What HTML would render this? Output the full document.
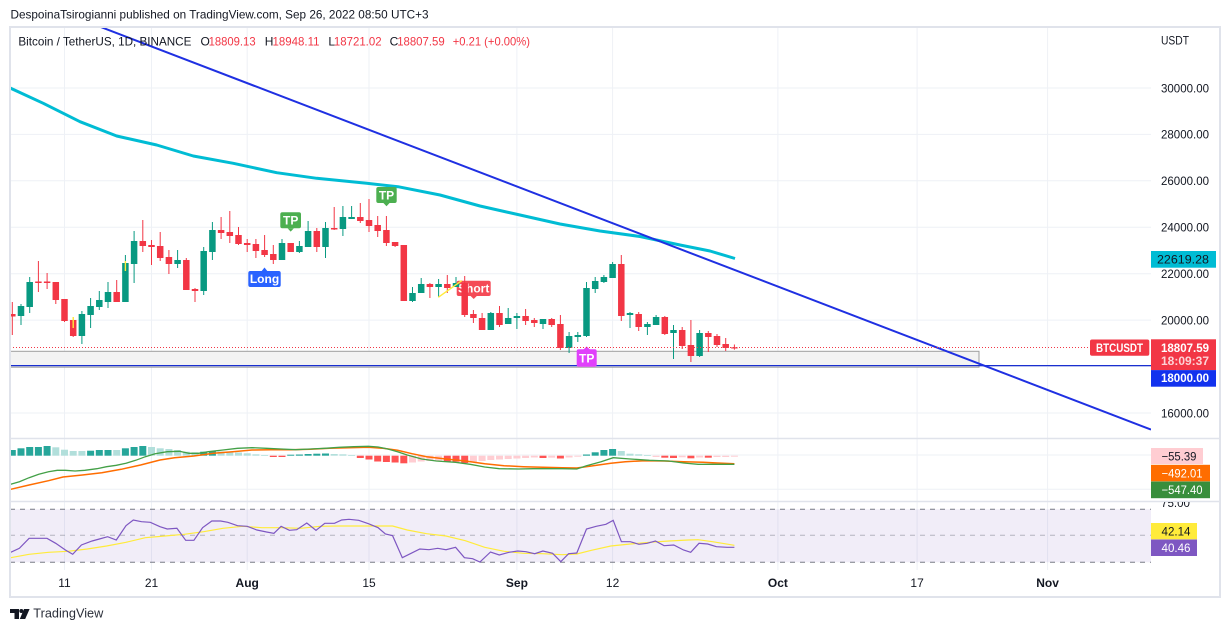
<!DOCTYPE html>
<html>
<head>
<meta charset="utf-8">
<style>
html,body{margin:0;padding:0;background:#fff;}
svg{display:block;font-family:"Liberation Sans",Arial,sans-serif;}
</style>
</head>
<body>
<svg width="1231" height="632" viewBox="0 0 1231 632" xmlns="http://www.w3.org/2000/svg">
<defs>
<clipPath id="cm"><rect x="10" y="27" width="1141" height="411"/></clipPath>
<clipPath id="cmacd"><rect x="10" y="439" width="1141" height="62"/></clipPath>
<clipPath id="crsi"><rect x="10" y="502" width="1141" height="68"/></clipPath>
<clipPath id="crsiax"><rect x="1151" y="502" width="70" height="68"/></clipPath>
</defs>

<!-- header -->
<text x="10.5" y="18.5" font-size="12" fill="#131722" textLength="418" lengthAdjust="spacingAndGlyphs">DespoinaTsirogianni published on TradingView.com, Sep 26, 2022 08:50 UTC+3</text>

<!-- vertical gridlines -->
<g stroke="#eef1f6" stroke-width="1">
<line x1="64.5" y1="27" x2="64.5" y2="570"/>
<line x1="151.5" y1="27" x2="151.5" y2="570"/>
<line x1="247.2" y1="27" x2="247.2" y2="570"/>
<line x1="369" y1="27" x2="369" y2="570"/>
<line x1="516.9" y1="27" x2="516.9" y2="570"/>
<line x1="612.6" y1="27" x2="612.6" y2="570"/>
<line x1="777.9" y1="27" x2="777.9" y2="570"/>
<line x1="917.1" y1="27" x2="917.1" y2="570"/>
<line x1="1047.6" y1="27" x2="1047.6" y2="570"/>
</g>
<!-- horizontal gridlines main -->
<g stroke="#eef1f6" stroke-width="1">
<line x1="10" y1="88" x2="1151" y2="88"/>
<line x1="10" y1="134.4" x2="1151" y2="134.4"/>
<line x1="10" y1="180.8" x2="1151" y2="180.8"/>
<line x1="10" y1="227.3" x2="1151" y2="227.3"/>
<line x1="10" y1="273.7" x2="1151" y2="273.7"/>
<line x1="10" y1="320.1" x2="1151" y2="320.1"/>
<line x1="10" y1="366.5" x2="1151" y2="366.5"/>
<line x1="10" y1="413" x2="1151" y2="413"/>
<line x1="10" y1="455" x2="1151" y2="455"/>
<line x1="10" y1="489.3" x2="1151" y2="489.3"/>
</g>

<g clip-path="url(#cm)">
<!-- gray zone rectangle -->
<rect x="10" y="351.3" width="969" height="15.9" fill="#f3f3f3" stroke="#9e9e9e" stroke-width="1"/>
<line x1="10" y1="365.6" x2="1151" y2="365.6" stroke="#1a2fd0" stroke-width="1.2"/>

<!-- cyan MA -->
<polyline fill="none" stroke="#00bcd4" stroke-width="3" stroke-linejoin="round" points="9,87.5 43.3,103.3 80,121.7 116.7,136 156.7,145 193.3,156 233.3,163.3 276.7,172.7 316.7,178.3 366.7,183.3 398,186.7 440,195 480,206 520,215 560,224 600,231 640,236.5 680,245 710,251 735,258.5"/>

<!-- badges -->
<g>
<rect x="248.3" y="271" width="32.4" height="16" rx="2" fill="#2962ff"/>
<polygon points="261.5,271.2 264.5,267.5 267.5,271.2" fill="#2962ff"/>
<text x="264.5" y="283" font-size="12" fill="#fff" text-anchor="middle" font-weight="bold">Long</text>

<rect x="280.3" y="212.3" width="20.7" height="16" rx="2" fill="#4caf50"/>
<polygon points="287.5,228.2 290.7,231.6 293.9,228.2" fill="#4caf50"/>
<text x="290.7" y="224.6" font-size="12" fill="#fff" text-anchor="middle" font-weight="bold">TP</text>

<rect x="376.3" y="187" width="20.4" height="16" rx="2" fill="#4caf50"/>
<polygon points="383.3,202.9 386.5,206.3 389.7,202.9" fill="#4caf50"/>
<text x="386.5" y="199.3" font-size="12" fill="#fff" text-anchor="middle" font-weight="bold">TP</text>

<rect x="456.7" y="280.7" width="34" height="15.3" rx="2" fill="#f44b57"/>
<polygon points="470.5,295.9 473.7,299 476.9,295.9" fill="#f44b57"/>
<text x="473.7" y="292.5" font-size="12" fill="#fff" text-anchor="middle" font-weight="bold">Short</text>

<rect x="576.7" y="349.3" width="20" height="17.4" rx="2" fill="#e040fb"/>
<polygon points="583.5,349.5 586.7,346.4 589.9,349.5" fill="#e040fb"/>
<text x="586.7" y="362.3" font-size="12" fill="#fff" text-anchor="middle" font-weight="bold">TP</text>
</g>

<!-- red candles -->
<g fill="#f23645">
<rect x="11.8" y="302" width="1" height="33"/><rect x="9.05" y="314" width="6.5" height="2.5"/>
<rect x="37.9" y="261" width="1" height="31"/><rect x="35.15" y="281.5" width="6.5" height="1.5"/>
<rect x="46.6" y="273" width="1" height="16"/><rect x="43.85" y="281.5" width="6.5" height="1.5"/>
<rect x="55.3" y="282" width="1" height="22"/><rect x="52.55" y="282" width="6.5" height="18"/>
<rect x="64" y="299" width="1" height="23"/><rect x="61.25" y="299" width="6.5" height="22"/>
<rect x="72.7" y="317" width="1" height="20"/><rect x="69.95" y="320" width="6.5" height="16"/>
<rect x="116.2" y="280" width="1" height="22"/><rect x="113.45" y="292" width="6.5" height="10"/>
<rect x="142.3" y="220" width="1" height="32"/><rect x="139.55" y="241" width="6.5" height="5"/>
<rect x="151" y="240" width="1" height="25"/><rect x="148.25" y="245" width="6.5" height="2"/>
<rect x="159.7" y="232" width="1" height="29"/><rect x="156.95" y="246" width="6.5" height="12"/>
<rect x="168.4" y="250" width="1" height="24"/><rect x="165.65" y="257" width="6.5" height="7"/>
<rect x="185.8" y="258" width="1" height="32"/><rect x="183.05" y="260" width="6.5" height="30"/>
<rect x="194.5" y="288" width="1" height="14"/><rect x="191.75" y="289" width="6.5" height="2"/>
<rect x="220.6" y="217" width="1" height="22"/><rect x="217.85" y="230" width="6.5" height="3"/>
<rect x="229.3" y="211" width="1" height="32"/><rect x="226.55" y="232" width="6.5" height="4"/>
<rect x="238" y="227" width="1" height="18"/><rect x="235.25" y="235" width="6.5" height="9"/>
<rect x="246.7" y="239" width="1" height="13"/><rect x="243.95" y="243" width="6.5" height="2"/>
<rect x="255.4" y="239" width="1" height="19"/><rect x="252.65" y="244" width="6.5" height="7"/>
<rect x="264.1" y="235" width="1" height="22"/><rect x="261.35" y="250" width="6.5" height="5"/>
<rect x="272.8" y="245" width="1" height="19"/><rect x="270.05" y="254" width="6.5" height="6"/>
<rect x="290.2" y="243" width="1" height="9"/><rect x="287.45" y="243" width="6.5" height="9"/>
<rect x="316.3" y="228" width="1" height="24"/><rect x="313.55" y="231" width="6.5" height="16"/>
<rect x="333.7" y="207" width="1" height="23"/><rect x="330.95" y="228" width="6.5" height="1.5"/>
<rect x="359.8" y="203" width="1" height="20"/><rect x="357.05" y="217" width="6.5" height="4"/>
<rect x="368.5" y="199" width="1" height="33"/><rect x="365.75" y="220" width="6.5" height="6"/>
<rect x="377.2" y="216" width="1" height="21"/><rect x="374.45" y="225" width="6.5" height="6"/>
<rect x="385.9" y="216" width="1" height="30"/><rect x="383.15" y="230" width="6.5" height="13"/>
<rect x="394.6" y="242" width="1" height="5"/><rect x="391.85" y="242" width="6.5" height="4"/>
<rect x="403.3" y="245" width="1" height="56"/><rect x="400.55" y="245" width="6.5" height="56"/>
<rect x="429.4" y="283" width="1" height="15"/><rect x="426.65" y="284" width="6.5" height="3"/>
<rect x="446.8" y="275" width="1" height="18"/><rect x="444.05" y="284" width="6.5" height="4"/>
<rect x="464.2" y="276" width="1" height="41"/><rect x="461.45" y="283" width="6.5" height="32"/>
<rect x="472.9" y="310" width="1" height="13"/><rect x="470.15" y="314" width="6.5" height="4"/>
<rect x="481.6" y="313" width="1" height="17"/><rect x="478.85" y="318" width="6.5" height="12"/>
<rect x="499" y="306" width="1" height="21"/><rect x="496.25" y="313" width="6.5" height="12"/>
<rect x="525.1" y="309" width="1" height="16"/><rect x="522.35" y="316" width="6.5" height="5"/>
<rect x="533.8" y="318" width="1" height="9"/><rect x="531.05" y="320" width="6.5" height="3"/>
<rect x="551.2" y="318" width="1" height="9"/><rect x="548.45" y="319" width="6.5" height="6"/>
<rect x="559.9" y="315" width="1" height="35"/><rect x="557.15" y="324" width="6.5" height="24"/>
<rect x="620.8" y="255" width="1" height="66"/><rect x="618.05" y="264" width="6.5" height="52"/>
<rect x="638.2" y="312" width="1" height="19"/><rect x="635.45" y="314" width="6.5" height="13"/>
<rect x="664.3" y="316" width="1" height="19"/><rect x="661.55" y="317" width="6.5" height="17"/>
<rect x="681.7" y="327" width="1" height="22"/><rect x="678.95" y="330" width="6.5" height="16"/>
<rect x="690.4" y="320" width="1" height="42"/><rect x="687.65" y="345" width="6.5" height="11"/>
<rect x="707.8" y="331" width="1" height="21"/><rect x="705.05" y="333" width="6.5" height="4"/>
<rect x="716.5" y="334" width="1" height="13"/><rect x="713.75" y="336" width="6.5" height="9"/>
<rect x="725.2" y="338" width="1" height="13"/><rect x="722.45" y="344" width="6.5" height="4"/>
<rect x="733.9" y="344.5" width="1" height="5.2"/><rect x="731.15" y="347.3" width="6.5" height="1.2"/>
</g>
<!-- green candles -->
<g fill="#089981">
<rect x="20.5" y="304" width="1" height="21"/><rect x="17.75" y="306" width="6.5" height="10"/>
<rect x="29.2" y="277" width="1" height="36"/><rect x="26.45" y="282" width="6.5" height="25"/>
<rect x="81.4" y="311" width="1" height="33"/><rect x="78.65" y="314" width="6.5" height="22"/>
<rect x="90.1" y="298" width="1" height="30"/><rect x="87.35" y="306" width="6.5" height="9"/>
<rect x="98.8" y="291" width="1" height="19"/><rect x="96.05" y="300" width="6.5" height="7"/>
<rect x="107.5" y="282" width="1" height="26"/><rect x="104.75" y="292" width="6.5" height="10"/>
<rect x="124.9" y="255" width="1" height="47"/><rect x="122.15" y="263" width="6.5" height="39"/>
<rect x="133.6" y="231" width="1" height="52"/><rect x="130.85" y="241" width="6.5" height="23"/>
<rect x="177.1" y="250" width="1" height="18"/><rect x="174.35" y="260" width="6.5" height="4"/>
<rect x="203.2" y="247" width="1" height="48"/><rect x="200.45" y="251" width="6.5" height="40"/>
<rect x="211.9" y="222" width="1" height="38"/><rect x="209.15" y="230" width="6.5" height="22"/>
<rect x="281.5" y="239" width="1" height="21"/><rect x="278.75" y="243" width="6.5" height="17"/>
<rect x="298.9" y="241" width="1" height="12"/><rect x="296.15" y="246" width="6.5" height="6"/>
<rect x="307.6" y="221" width="1" height="26"/><rect x="304.85" y="231" width="6.5" height="16"/>
<rect x="325" y="222" width="1" height="36"/><rect x="322.25" y="228" width="6.5" height="19"/>
<rect x="342.4" y="206" width="1" height="30"/><rect x="339.65" y="217" width="6.5" height="12"/>
<rect x="351.1" y="206" width="1" height="13"/><rect x="348.35" y="217" width="6.5" height="2"/>
<rect x="412" y="287" width="1" height="15"/><rect x="409.25" y="293" width="6.5" height="8"/>
<rect x="420.7" y="278" width="1" height="15"/><rect x="417.95" y="284" width="6.5" height="9"/>
<rect x="438.1" y="279" width="1" height="18"/><rect x="435.35" y="284" width="6.5" height="3"/>
<rect x="455.5" y="277" width="1" height="10"/><rect x="452.75" y="283" width="6.5" height="4"/>
<rect x="490.3" y="312" width="1" height="18"/><rect x="487.55" y="313" width="6.5" height="17"/>
<rect x="507.7" y="308" width="1" height="16"/><rect x="504.95" y="318" width="6.5" height="6"/>
<rect x="516.4" y="313" width="1" height="16"/><rect x="513.65" y="316" width="6.5" height="2"/>
<rect x="542.5" y="319" width="1" height="10"/><rect x="539.75" y="319" width="6.5" height="5"/>
<rect x="568.6" y="332" width="1" height="21"/><rect x="565.85" y="336" width="6.5" height="12"/>
<rect x="577.3" y="332" width="1" height="10"/><rect x="574.55" y="335" width="6.5" height="2"/>
<rect x="586" y="282" width="1" height="55"/><rect x="583.25" y="288" width="6.5" height="48"/>
<rect x="594.7" y="277" width="1" height="16"/><rect x="591.95" y="281" width="6.5" height="8"/>
<rect x="603.4" y="275" width="1" height="8"/><rect x="600.65" y="277" width="6.5" height="5"/>
<rect x="612.1" y="262" width="1" height="16"/><rect x="609.35" y="264" width="6.5" height="14"/>
<rect x="629.5" y="312" width="1" height="16"/><rect x="626.75" y="313" width="6.5" height="2"/>
<rect x="646.9" y="322" width="1" height="13"/><rect x="644.15" y="324" width="6.5" height="3"/>
<rect x="655.6" y="315" width="1" height="10"/><rect x="652.85" y="317" width="6.5" height="8"/>
<rect x="673" y="325" width="1" height="34"/><rect x="670.25" y="330" width="6.5" height="3"/>
<rect x="699.1" y="330" width="1" height="27"/><rect x="696.35" y="333" width="6.5" height="23"/>
</g>
<!-- yellow marks -->
<g stroke="#ffeb3b" stroke-width="1.4">
<line x1="438.3" y1="297.3" x2="461.7" y2="280.7"/>
<line x1="73.2" y1="317" x2="73.2" y2="328"/>
<line x1="125.4" y1="261" x2="125.4" y2="271"/>
</g>

<!-- trendline -->
<line x1="100" y1="26.7" x2="1151" y2="429.6" stroke="#1f30e2" stroke-width="2"/>
<!-- current price dotted line -->
<line x1="10" y1="347.5" x2="1090" y2="347.5" stroke="#f23645" stroke-width="1" stroke-dasharray="1,2"/>
</g>

<!-- legend line 2 -->
<g font-size="12">
<text x="18.4" y="45.5" fill="#131722" textLength="173" lengthAdjust="spacingAndGlyphs">Bitcoin / TetherUS, 1D, BINANCE</text>
<text x="200.5" y="45.5" fill="#131722">O</text>
<text x="208.6" y="45.5" fill="#f23645" textLength="47" lengthAdjust="spacingAndGlyphs">18809.13</text>
<text x="264.8" y="45.5" fill="#131722">H</text>
<text x="272.5" y="45.5" fill="#f23645" textLength="47" lengthAdjust="spacingAndGlyphs">18948.11</text>
<text x="328.4" y="45.5" fill="#131722">L</text>
<text x="333.9" y="45.5" fill="#f23645" textLength="47.7" lengthAdjust="spacingAndGlyphs">18721.02</text>
<text x="389.6" y="45.5" fill="#131722">C</text>
<text x="397.2" y="45.5" fill="#f23645" textLength="47.5" lengthAdjust="spacingAndGlyphs">18807.59</text>
<text x="452.7" y="45.5" fill="#f23645" textLength="77.3" lengthAdjust="spacingAndGlyphs">+0.21 (+0.00%)</text>
</g>

<!-- MACD pane -->
<g clip-path="url(#cmacd)">
<g fill="#26a69a">
<rect x="8.8" y="450" width="7" height="5.7"/>
<rect x="17.5" y="448.3" width="7" height="7.4"/>
<rect x="26.2" y="447" width="7" height="8.7"/>
<rect x="34.9" y="447" width="7" height="8.7"/>
<rect x="43.6" y="446" width="7" height="9.7"/>
<rect x="87.1" y="450.7" width="7" height="5"/>
<rect x="95.8" y="450" width="7" height="5.7"/>
<rect x="104.5" y="450" width="7" height="5.7"/>
<rect x="121.9" y="448.3" width="7" height="7.4"/>
<rect x="130.6" y="447" width="7" height="8.7"/>
<rect x="139.3" y="446" width="7" height="9.7"/>
<rect x="200.2" y="451.7" width="7" height="4"/>
<rect x="208.9" y="451" width="7" height="4.7"/>
<rect x="287.2" y="454.7" width="7" height="1"/>
<rect x="295.9" y="454.5" width="7" height="1.2"/>
<rect x="304.6" y="454" width="7" height="1.7"/>
<rect x="313.3" y="453.7" width="7" height="2"/>
<rect x="322" y="453.5" width="7" height="2.2"/>
<rect x="583" y="454.5" width="7" height="1.2"/>
<rect x="591.7" y="452.3" width="7" height="3.4"/>
<rect x="600.4" y="450" width="7" height="5.7"/>
<rect x="609.1" y="449" width="7" height="6.7"/>
</g>
<g fill="#b2dfdb">
<rect x="52.3" y="447.3" width="7" height="8.4"/>
<rect x="61" y="449.7" width="7" height="6"/>
<rect x="69.7" y="451" width="7" height="4.7"/>
<rect x="78.4" y="451" width="7" height="4.7"/>
<rect x="113.2" y="450" width="7" height="5.7"/>
<rect x="148" y="447" width="7" height="8.7"/>
<rect x="156.7" y="448.3" width="7" height="7.4"/>
<rect x="165.4" y="449" width="7" height="6.7"/>
<rect x="174.1" y="450" width="7" height="5.7"/>
<rect x="182.8" y="451.7" width="7" height="4"/>
<rect x="191.5" y="452.3" width="7" height="3.4"/>
<rect x="217.6" y="451.5" width="7" height="4.2"/>
<rect x="226.3" y="452" width="7" height="3.7"/>
<rect x="235" y="452.5" width="7" height="3.2"/>
<rect x="243.7" y="453.3" width="7" height="2.4"/>
<rect x="252.4" y="454.3" width="7" height="1.4"/>
<rect x="261.1" y="455" width="7" height="0.8"/>
<rect x="330.7" y="454" width="7" height="1.7"/>
<rect x="339.4" y="454.3" width="7" height="1.4"/>
<rect x="348.1" y="455" width="7" height="0.8"/>
<rect x="617.8" y="451" width="7" height="4.7"/>
<rect x="626.5" y="453.7" width="7" height="2"/>
<rect x="635.2" y="454.3" width="7" height="1.4"/>
<rect x="643.9" y="455" width="7" height="0.8"/>
</g>
<g fill="#ff5252">
<rect x="269.8" y="455.7" width="7" height="1.3"/>
<rect x="278.5" y="455.7" width="7" height="1.3"/>
<rect x="356.8" y="455.7" width="7" height="2.3"/>
<rect x="365.5" y="455.7" width="7" height="3.8"/>
<rect x="374.2" y="455.7" width="7" height="5.8"/>
<rect x="382.9" y="455.7" width="7" height="6.3"/>
<rect x="391.6" y="455.7" width="7" height="6.8"/>
<rect x="400.3" y="455.7" width="7" height="7.6"/>
<rect x="443.8" y="455.7" width="7" height="5.8"/>
<rect x="452.5" y="455.7" width="7" height="6"/>
<rect x="461.2" y="455.7" width="7" height="7.3"/>
<rect x="539.5" y="455.7" width="7" height="2.3"/>
<rect x="556.9" y="455.7" width="7" height="2.8"/>
<rect x="661.3" y="455.7" width="7" height="2"/>
<rect x="670" y="455.7" width="7" height="2.3"/>
<rect x="687.4" y="455.7" width="7" height="2.6"/>
<rect x="704.8" y="455.7" width="7" height="2"/>
</g>
<g fill="#ffcdd2">
<rect x="409" y="455.7" width="7" height="6.8"/>
<rect x="417.7" y="455.7" width="7" height="5.8"/>
<rect x="426.4" y="455.7" width="7" height="5.3"/>
<rect x="435.1" y="455.7" width="7" height="5"/>
<rect x="469.9" y="455.7" width="7" height="6.3"/>
<rect x="478.6" y="455.7" width="7" height="5.3"/>
<rect x="487.3" y="455.7" width="7" height="4.3"/>
<rect x="496" y="455.7" width="7" height="3.8"/>
<rect x="504.7" y="455.7" width="7" height="3.3"/>
<rect x="513.4" y="455.7" width="7" height="2.8"/>
<rect x="522.1" y="455.7" width="7" height="2.3"/>
<rect x="530.8" y="455.7" width="7" height="1.8"/>
<rect x="548.2" y="455.7" width="7" height="2"/>
<rect x="565.6" y="455.7" width="7" height="1.8"/>
<rect x="574.3" y="455.7" width="7" height="1"/>
<rect x="652.6" y="455.7" width="7" height="1.3"/>
<rect x="678.7" y="455.7" width="7" height="1.6"/>
<rect x="696.1" y="455.7" width="7" height="1.8"/>
<rect x="713.5" y="455.7" width="7" height="1.3"/>
<rect x="722.2" y="455.7" width="7" height="1.3"/>
<rect x="730.9" y="455.7" width="7" height="1"/>
</g>
<polyline fill="none" stroke="#ff6d00" stroke-width="1.5" points="10.7,489.3 29.1,485 48.5,480.7 63,477 82.4,475 101.8,472.7 121.2,469.3 140.6,465 160,460 174.5,457.7 193.9,456 213.3,453.3 232.7,451.7 252,450 271.4,449.7 290.8,449.7 310.2,449.3 329.6,448.3 349,447.7 368.4,447.3 382.9,448.3 397.5,450.3 412,453.7 426.6,456.7 446,459 465.3,461 484.7,463.7 504.1,465.7 523.5,466.7 542.9,467.3 562.3,467.7 576.8,468 591.4,466 610.8,463.3 625.3,461.7 644.7,460.7 664.1,461 683.5,461.7 702.9,462.3 717.4,463 734.4,463.7"/>
<polyline fill="none" stroke="#43a047" stroke-width="1.3" points="10.7,484.3 19.4,481.7 29.1,477.7 38.8,474.3 48.5,471.7 57.2,470.3 65.4,470.3 75.1,471 84.8,470.3 96.9,468.7 106.6,466.7 116.3,465.3 126,463.3 135.7,460.3 145.4,456.7 155.1,453.7 167.2,451.7 179.4,451.3 189,453.3 198.7,453.3 208.4,451.7 223,450 237.5,448.3 252,447.7 266.6,448.3 281.1,449 295.7,449.7 310.2,449 324.8,448.3 339.3,447.3 353.9,446.7 368.4,446.3 378.1,447 387.8,449 397.5,451.7 407.2,455 421.7,459 436.3,461 455.6,462.3 470.2,464.3 484.7,467 499.3,468.7 518.7,469 533.2,468.7 547.7,468.7 562.3,468.7 576.8,469 586.5,465.7 601.1,461.7 613.2,457.7 630.2,459 649.5,460.3 668.9,461 683.5,463 698,464.3 717.4,464.3 734.4,464.3"/>
</g>

<!-- RSI pane -->
<g clip-path="url(#crsi)">
<rect x="10" y="509.3" width="1141" height="53" fill="#7e57c2" fill-opacity="0.11"/>
<line x1="10" y1="509.3" x2="1151" y2="509.3" stroke="#787b86" stroke-width="1" stroke-dasharray="5,5"/>
<line x1="10" y1="535.3" x2="1151" y2="535.3" stroke="#787b86" stroke-opacity="0.5" stroke-width="1" stroke-dasharray="5,5"/>
<line x1="10" y1="562.3" x2="1151" y2="562.3" stroke="#787b86" stroke-width="1" stroke-dasharray="5,5"/>
<polyline fill="none" stroke="#ffeb3b" stroke-width="1.2" points="10.7,557.7 29.1,554.3 48.5,552.3 67.9,551.3 87.3,549 106.6,546 126,542.3 145.4,537.7 164.8,536 184.2,534.3 203.6,531.7 223,528.3 242.4,526.3 261.8,527.7 281.1,527.7 300.5,528.3 319.9,526.3 339.3,526 358.7,526 378.1,526 392.6,526 407.2,530 426.6,533.7 446,536 465.3,540.7 484.7,547.3 504.1,551.3 523.5,553.3 542.9,553.7 562.3,554.7 576.8,554 591.4,550.3 610.8,546 630.2,544 649.5,542.3 668.9,541 688.3,540 698,539.7 712.5,541.7 734.4,545.3"/>
<polyline fill="none" stroke="#7e57c2" stroke-width="1.2" points="10.7,552.3 19.4,548.3 29.1,538.3 47,538.3 55.7,543.3 65.4,550 72.7,554.3 81.4,545 92.1,541 99.4,539 107.6,536.7 116.3,540 126,525.7 133.3,520 141.5,521.7 150.3,522.3 160,526.7 167.2,529 176.9,528.3 185.7,540.3 193.9,540.3 202.6,527.7 211.8,521 220.6,521 227.8,522.3 237.5,525.7 247.2,526.3 256.9,530 266.6,532 273.9,533.3 281.1,526.3 289.4,530.3 296.7,529.7 306.8,523 316,530.3 324.8,523.3 334.5,523.3 341.7,520 349,519.3 358.7,520.3 368.4,523.7 378.1,527.7 385.4,534 392.6,535.7 402.3,557.7 411.1,553.3 419.8,549 429,549.7 437.7,548.3 446,549.7 455.6,547.3 464.4,557.7 472.6,558.7 479.9,562 490.5,552 499.3,555 509,552.3 517.7,551 525.9,551.7 534.7,553.7 542.9,551 552.6,553.3 560.8,561.7 568.6,553.7 576.8,553 586.5,529 596.2,526.3 605.9,524.3 613.2,520.3 621.4,541.7 630.2,541.7 638.9,544.3 647.1,543.3 655.4,541 664.1,545.7 673.8,545 683.5,550 690.7,552.3 699,543.3 707.7,544 716.4,546.7 727.1,547.3 734.4,547.3"/>
</g>

<!-- frame and separators -->
<rect x="10" y="27" width="1210" height="570" fill="none" stroke="#e0e3eb" stroke-width="2"/>
<line x1="10" y1="438.5" x2="1220" y2="438.5" stroke="#e0e3eb" stroke-width="1.5"/>
<line x1="10" y1="501.5" x2="1220" y2="501.5" stroke="#e0e3eb" stroke-width="1.5"/>

<!-- price axis labels -->
<g font-size="12" fill="#131722">
<text x="1161" y="44.5" textLength="28" lengthAdjust="spacingAndGlyphs">USDT</text>
<text x="1161" y="92.3" textLength="48" lengthAdjust="spacingAndGlyphs">30000.00</text>
<text x="1161" y="138.7" textLength="48" lengthAdjust="spacingAndGlyphs">28000.00</text>
<text x="1161" y="185.1" textLength="48" lengthAdjust="spacingAndGlyphs">26000.00</text>
<text x="1161" y="231.6" textLength="48" lengthAdjust="spacingAndGlyphs">24000.00</text>
<text x="1161" y="278" textLength="48" lengthAdjust="spacingAndGlyphs">22000.00</text>
<text x="1161" y="324.4" textLength="48" lengthAdjust="spacingAndGlyphs">20000.00</text>
<text x="1161" y="417.3" textLength="48" lengthAdjust="spacingAndGlyphs">16000.00</text>
</g>
<g clip-path="url(#crsiax)">
<text x="1161" y="507" font-size="12" fill="#131722" textLength="29" lengthAdjust="spacingAndGlyphs">75.00</text>
</g>

<!-- price axis boxes -->
<rect x="1151" y="251" width="65" height="16.7" fill="#00bcd4"/>
<text x="1157" y="263.5" font-size="12" fill="#131722" textLength="52" lengthAdjust="spacingAndGlyphs">22619.28</text>

<rect x="1090" y="339.5" width="59.3" height="16.3" rx="2" fill="#f23645"/>
<text x="1096" y="351.8" font-size="12" fill="#fff" font-weight="bold" textLength="47" lengthAdjust="spacingAndGlyphs">BTCUSDT</text>

<rect x="1151" y="339.3" width="65" height="30.8" fill="#f23645"/>
<text x="1161" y="351.8" font-size="12" fill="#fff" font-weight="bold" textLength="48" lengthAdjust="spacingAndGlyphs">18807.59</text>
<text x="1161" y="365" font-size="12" fill="#fff" fill-opacity="0.78" font-weight="bold" textLength="48" lengthAdjust="spacingAndGlyphs">18:09:37</text>

<rect x="1151" y="370.1" width="65" height="16.6" fill="#1232ee"/>
<text x="1161" y="382" font-size="12" fill="#fff" font-weight="bold" textLength="48" lengthAdjust="spacingAndGlyphs">18000.00</text>

<rect x="1151" y="448" width="52" height="16" fill="#ffcdd2"/>
<text x="1161.5" y="460.3" font-size="12" fill="#131722" textLength="35" lengthAdjust="spacingAndGlyphs">−55.39</text>
<rect x="1151" y="464.8" width="59" height="16.5" fill="#ff6d00"/>
<text x="1161.5" y="477.3" font-size="12" fill="#fff" textLength="41" lengthAdjust="spacingAndGlyphs">−492.01</text>
<rect x="1151" y="481.5" width="59" height="16.7" fill="#388e3c"/>
<text x="1161.5" y="494" font-size="12" fill="#fff" textLength="41" lengthAdjust="spacingAndGlyphs">−547.40</text>

<rect x="1151" y="523" width="46" height="16.3" fill="#ffeb3b"/>
<text x="1161.5" y="535.4" font-size="12" fill="#131722" textLength="29" lengthAdjust="spacingAndGlyphs">42.14</text>
<rect x="1151" y="539.5" width="46" height="16.5" fill="#7e57c2"/>
<text x="1161.5" y="552" font-size="12" fill="#fff" textLength="29" lengthAdjust="spacingAndGlyphs">40.46</text>

<!-- time axis -->
<g font-size="12" fill="#131722" text-anchor="middle">
<text x="64.5" y="587">11</text>
<text x="151.5" y="587">21</text>
<text x="247.2" y="587" font-weight="bold">Aug</text>
<text x="369" y="587">15</text>
<text x="516.9" y="587" font-weight="bold">Sep</text>
<text x="612.6" y="587">12</text>
<text x="777.9" y="587" font-weight="bold">Oct</text>
<text x="917.1" y="587">17</text>
<text x="1047.6" y="587" font-weight="bold">Nov</text>
</g>

<!-- footer logo -->
<g fill="#131722">
<rect x="10" y="609" width="9" height="4"/>
<rect x="14.5" y="609" width="4.5" height="10"/>
<circle cx="21.3" cy="611" r="2"/>
<polygon points="24,609 29.6,609 25.2,619 19.8,619"/>
</g>
<text x="33.3" y="617.5" font-size="13" fill="#2a2e39" textLength="70" lengthAdjust="spacingAndGlyphs">TradingView</text>
</svg>
</body>
</html>
